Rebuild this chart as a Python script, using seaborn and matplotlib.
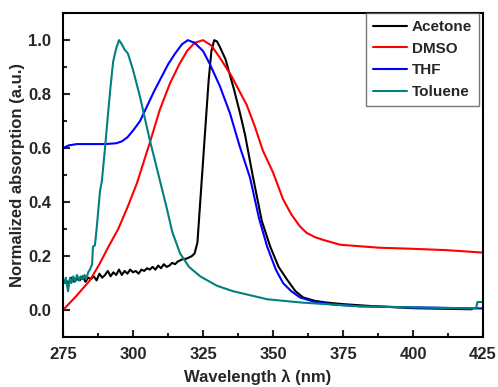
import numpy as np
import pandas as pd
import matplotlib
matplotlib.use("Agg")
import matplotlib.pyplot as plt
import seaborn as sns
from matplotlib.ticker import MultipleLocator

sns.set_theme(style="white")
plt.rcParams['font.family'] = ['Liberation Sans', 'DejaVu Sans']
plt.rcParams['font.weight'] = 'bold'

# Acetone (black)
acetone_wl = [275, 276, 277, 278, 279, 280, 281, 282, 283, 284, 285, 286, 287, 288, 289,
              290, 291, 292, 293, 294, 295, 296, 297, 298, 299, 300, 301, 302, 303, 304,
              305, 306, 307, 308, 309, 310, 311, 312, 313, 314, 315, 316, 317, 318, 319,
              320, 321, 322, 323, 324, 325, 326, 327, 328, 329, 330, 331, 333, 336, 338.2,
              340, 342.9, 346, 349, 352, 355, 358, 360.7, 365, 369, 375, 385, 400, 410, 421]
acetone_abs = [0.105, 0.11, 0.10, 0.12, 0.105, 0.115, 0.11, 0.125, 0.105, 0.12, 0.115,
               0.125, 0.11, 0.135, 0.12, 0.13, 0.145, 0.125, 0.14, 0.13, 0.15, 0.13, 0.145,
               0.135, 0.15, 0.14, 0.145, 0.135, 0.15, 0.145, 0.155, 0.15, 0.16, 0.15, 0.165,
               0.155, 0.17, 0.16, 0.165, 0.175, 0.17, 0.18, 0.185, 0.19, 0.19, 0.195, 0.20,
               0.21, 0.25, 0.40, 0.55, 0.70, 0.85, 0.96, 1.0, 0.995, 0.975, 0.93, 0.82,
               0.73, 0.65, 0.49, 0.33, 0.235, 0.16, 0.113, 0.07, 0.047, 0.034, 0.028, 0.022,
               0.015, 0.007, 0.005, 0.003]

# DMSO (red)
dmso_wl = [275, 280, 284.6, 288, 291, 294.7, 298, 301.4, 304, 306, 309.5, 313.2,
           316.5, 319.3, 322, 325, 328, 331, 335, 340.6, 343.5, 346.4, 350, 353.6, 356.5,
           359.6, 362, 365, 367.9, 374, 388, 400, 412, 425]
dmso_abs = [0.0, 0.055, 0.11, 0.17, 0.23, 0.30, 0.38, 0.47, 0.555, 0.62, 0.74, 0.84,
            0.91, 0.96, 0.99, 1.0, 0.98, 0.935, 0.87, 0.76, 0.68, 0.59, 0.51, 0.41, 0.355,
            0.31, 0.286, 0.27, 0.26, 0.242, 0.231, 0.227, 0.222, 0.213]

# THF (blue)
thf_wl = [275, 277, 280, 285, 290, 294, 296, 298, 300, 302.5, 305, 307.5, 310, 312.5, 315,
          317.5, 319.6, 322, 325, 327.5, 331, 334.6, 338, 341.8, 345, 347.9, 351, 353.6,
          356.5, 359.6, 365, 372, 381, 400, 425]
thf_abs = [0.60, 0.61, 0.615, 0.615, 0.615, 0.618, 0.625, 0.64, 0.665, 0.70, 0.755, 0.81,
           0.86, 0.91, 0.95, 0.985, 1.0, 0.99, 0.96, 0.91, 0.83, 0.73, 0.61, 0.49, 0.34,
           0.235, 0.15, 0.10, 0.07, 0.047, 0.03, 0.02, 0.014, 0.01, 0.006]

# Toluene (teal)
toluene_wl = [275, 275.5, 276, 276.8, 277.5, 278, 278.7, 279.3, 280, 280.7, 281.3, 282,
              282.7, 283.3, 284, 284.6, 285.4, 285.7, 286.4, 287, 288.2, 288.9, 290, 291.1,
              292, 292.9, 294, 295, 296, 297, 298.2, 300, 302.5, 306, 309.6, 312, 314,
              316.8, 320, 324, 330, 335.7, 341.8, 348, 360, 381, 400, 422.5, 423, 425]
toluene_abs = [0.11, 0.10, 0.12, 0.07, 0.12, 0.10, 0.125, 0.105, 0.13, 0.11, 0.125, 0.115,
               0.13, 0.115, 0.14, 0.15, 0.17, 0.235, 0.24, 0.30, 0.44, 0.48, 0.60, 0.73,
               0.83, 0.92, 0.97, 1.0, 0.985, 0.965, 0.95, 0.89, 0.79, 0.63, 0.48, 0.38,
               0.29, 0.21, 0.16, 0.125, 0.09, 0.07, 0.055, 0.04, 0.028, 0.014, 0.01, 0.006,
               0.03, 0.03]

solvents = ['Acetone', 'DMSO', 'THF', 'Toluene']
colors = {'Acetone': '#000000', 'DMSO': '#ff0000', 'THF': '#0000ff', 'Toluene': '#008080'}

frames = []
for name, wl, ab in zip(solvents,
                        [acetone_wl, dmso_wl, thf_wl, toluene_wl],
                        [acetone_abs, dmso_abs, thf_abs, toluene_abs]):
    frames.append(pd.DataFrame({'wl': wl, 'abs': ab, 'solvent': name}))
df = pd.concat(frames, ignore_index=True)

fig = plt.figure(figsize=(4.98, 3.87), dpi=100)
ax = fig.add_axes([0.1265, 0.129, 0.8435, 0.837])

sns.lineplot(data=df, x='wl', y='abs', hue='solvent', hue_order=solvents,
             palette=colors, estimator=None, sort=False, linewidth=1.5, ax=ax)

ax.set_xlim(275, 425)
ax.set_ylim(-0.1, 1.1)
ax.xaxis.set_major_locator(MultipleLocator(25))
ax.xaxis.set_minor_locator(MultipleLocator(12.5))
ax.yaxis.set_major_locator(MultipleLocator(0.2))
ax.yaxis.set_minor_locator(MultipleLocator(0.1))
ax.tick_params(which='both', direction='in', top=False, right=False, bottom=True, left=True,
               labelsize=12, width=1.5)
ax.tick_params(axis='x', pad=7)
ax.tick_params(axis='y', pad=8.5)
ax.tick_params(which='major', length=5)
ax.tick_params(which='minor', length=3)
for lab in ax.get_xticklabels() + ax.get_yticklabels():
    lab.set_fontweight('bold')
for sp in ax.spines.values():
    sp.set_color('black')
    sp.set_linewidth(1.5)

ax.set_xlabel('Wavelength λ (nm)', fontsize=12, fontweight='bold', labelpad=6.5)
ax.xaxis.set_label_coords(0.464, -0.1, transform=ax.transAxes)
ax.set_ylabel('Normalized absorption (a.u.)', fontsize=12, fontweight='bold', labelpad=2)

leg = ax.legend(loc='upper right', bbox_to_anchor=(1 - 4 / 420, 1), borderaxespad=0,
                handlelength=2.2, handletextpad=0.35, frameon=True, fancybox=False,
                prop={'weight': 'bold', 'size': 11}, labelspacing=0.5, borderpad=0.45)
leg.get_frame().set_edgecolor('#555555')
leg.get_frame().set_linewidth(1.0)
leg.set_title(None)

fig.savefig('out.png', dpi=100)
